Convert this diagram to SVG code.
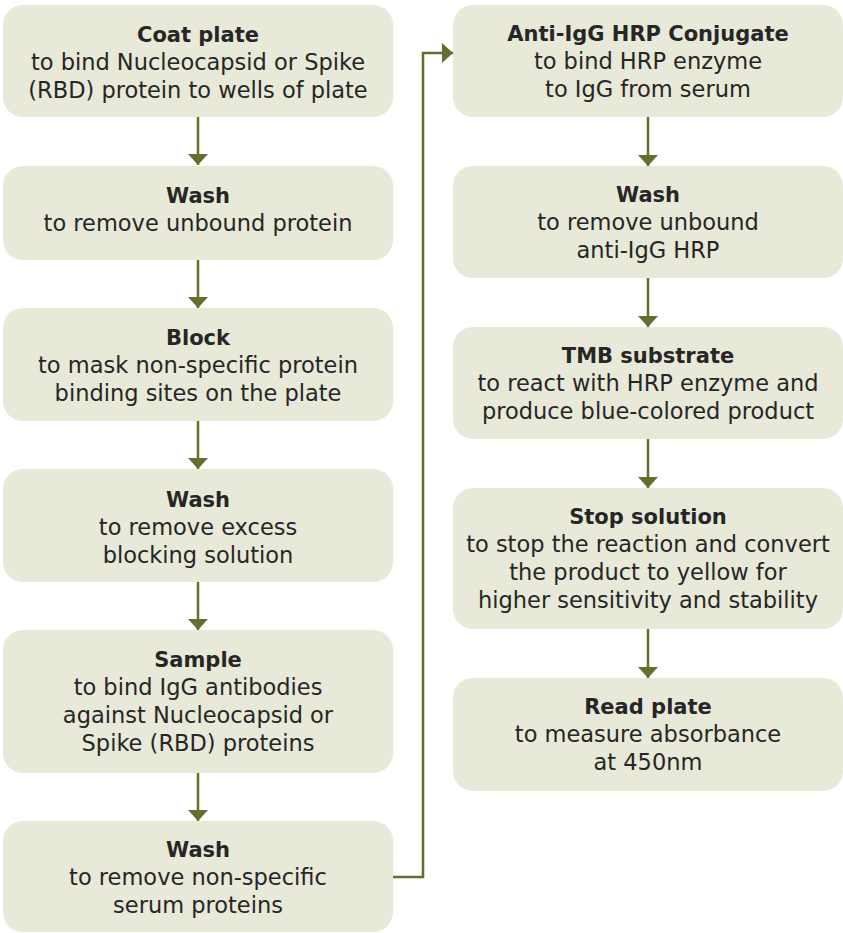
<svg xmlns="http://www.w3.org/2000/svg" width="843" height="933" viewBox="0 0 843 933">
<style>
.box{fill:#e8e9d8}
.t{font-family:"DejaVu Sans","Liberation Sans",sans-serif;font-size:22.5px;fill:#262626;text-anchor:middle}
.b{font-weight:bold;font-size:21px}
.c{fill:none;stroke:#646f2e;stroke-width:2.5}
</style>
<defs>
<marker id="ah" markerUnits="userSpaceOnUse" viewBox="0 0 11 20" markerWidth="11" markerHeight="20" refX="11" refY="10" orient="auto">
<path d="M0,0 L11,10 L0,20 Z" fill="#646f2e"/>
</marker>
</defs>
<rect width="843" height="933" fill="#ffffff"/>
<g id="coat-plate"><rect class="box" x="3" y="5" width="390" height="112" rx="20"/>
<text class="t b" x="198" y="42">Coat plate</text>
<text class="t" x="198" y="70">to bind Nucleocapsid or Spike</text>
<text class="t" x="198" y="98">(RBD) protein to wells of plate</text></g>
<g id="wash1"><rect class="box" x="3" y="166" width="390" height="94" rx="20"/>
<text class="t b" x="198" y="203">Wash</text>
<text class="t" x="198" y="231">to remove unbound protein</text></g>
<g id="block"><rect class="box" x="3" y="308" width="390" height="113" rx="20"/>
<text class="t b" x="198" y="345">Block</text>
<text class="t" x="198" y="373">to mask non-specific protein</text>
<text class="t" x="198" y="401">binding sites on the plate</text></g>
<g id="wash2"><rect class="box" x="3" y="469" width="390" height="113" rx="20"/>
<text class="t b" x="198" y="507">Wash</text>
<text class="t" x="198" y="535">to remove excess</text>
<text class="t" x="198" y="563">blocking solution</text></g>
<g id="sample"><rect class="box" x="3" y="630" width="390" height="143" rx="20"/>
<text class="t b" x="198" y="667">Sample</text>
<text class="t" x="198" y="695">to bind IgG antibodies</text>
<text class="t" x="198" y="723">against Nucleocapsid or</text>
<text class="t" x="198" y="751">Spike (RBD) proteins</text></g>
<g id="wash3"><rect class="box" x="3" y="821" width="390" height="111" rx="20"/>
<text class="t b" x="198" y="857">Wash</text>
<text class="t" x="198" y="885">to remove non-specific</text>
<text class="t" x="198" y="913">serum proteins</text></g>
<g id="anti-igg"><rect class="box" x="453" y="5" width="390" height="112" rx="20"/>
<text class="t b" x="648" y="41">Anti-IgG HRP Conjugate</text>
<text class="t" x="648" y="69">to bind HRP enzyme</text>
<text class="t" x="648" y="97">to IgG from serum</text></g>
<g id="wash4"><rect class="box" x="453" y="166" width="390" height="112" rx="20"/>
<text class="t b" x="648" y="202">Wash</text>
<text class="t" x="648" y="230">to remove unbound</text>
<text class="t" x="648" y="258">anti-IgG HRP</text></g>
<g id="tmb"><rect class="box" x="453" y="327" width="390" height="112" rx="20"/>
<text class="t b" x="648" y="363">TMB substrate</text>
<text class="t" x="648" y="391">to react with HRP enzyme and</text>
<text class="t" x="648" y="419">produce blue-colored product</text></g>
<g id="stop"><rect class="box" x="453" y="488" width="390" height="141" rx="20"/>
<text class="t b" x="648" y="524">Stop solution</text>
<text class="t" x="648" y="552">to stop the reaction and convert</text>
<text class="t" x="648" y="580">the product to yellow for</text>
<text class="t" x="648" y="608">higher sensitivity and stability</text></g>
<g id="read"><rect class="box" x="453" y="678" width="390" height="113" rx="20"/>
<text class="t b" x="648" y="714">Read plate</text>
<text class="t" x="648" y="742">to measure absorbance</text>
<text class="t" x="648" y="770">at 450nm</text></g>
<g id="connectors">
<path class="c" d="M198,117 V165" marker-end="url(#ah)"/>
<path class="c" d="M198,260 V308" marker-end="url(#ah)"/>
<path class="c" d="M198,421 V469" marker-end="url(#ah)"/>
<path class="c" d="M198,582 V630" marker-end="url(#ah)"/>
<path class="c" d="M198,773 V821" marker-end="url(#ah)"/>
<path class="c" d="M393,877 H423 V53 H453" marker-end="url(#ah)"/>
<path class="c" d="M648,117 V166" marker-end="url(#ah)"/>
<path class="c" d="M648,278 V327" marker-end="url(#ah)"/>
<path class="c" d="M648,439 V488" marker-end="url(#ah)"/>
<path class="c" d="M648,629 V678" marker-end="url(#ah)"/>
</g>
</svg>
